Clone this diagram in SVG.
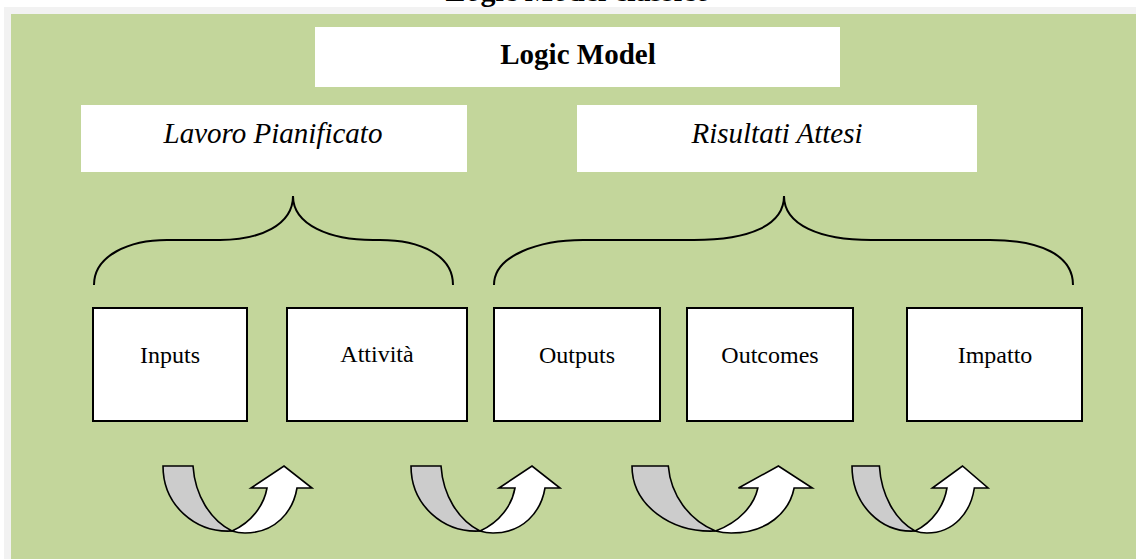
<svg xmlns="http://www.w3.org/2000/svg" width="1136" height="559" viewBox="0 0 1136 559">
  <defs>
    <style>
      .box { fill: #ffffff; stroke: #000000; stroke-width: 2; }
      .label { fill: #ffffff; }
      .txt { font-family: "Liberation Serif", "Times New Roman", serif; fill: #000000; text-anchor: middle; }
      .brace { fill: none; stroke: #000000; stroke-width: 2; }
      .back { fill: #cccccc; stroke: #000000; stroke-width: 1.6; stroke-linejoin: miter; }
      .front { fill: #ffffff; stroke: #000000; stroke-width: 1.6; stroke-linejoin: miter; }
    </style>
    <!-- U-turn arrow, drawn in local units: 149 wide, 67 high -->
    <g id="uturn">
      <path class="back" vector-effect="non-scaling-stroke" d="M0,0 H30 C32,29 47,54 69,65 C32,67 0,39 0,0 Z"/>
      <path class="front" vector-effect="non-scaling-stroke" d="M69,65 C89,56 101,39 104,22 H88 L121,0 L149,22 H134 C130,46 112,67 82,67 Q75,67 69,65 Z"/>
    </g>
  </defs>

  <!-- page and panel -->
  <rect x="0" y="0" width="1136" height="559" fill="#ffffff"/>
  <rect x="4" y="7" width="1132" height="552" fill="#f2f2f2"/>
  <rect x="11" y="14" width="1125" height="545" fill="#c3d69b"/>
  <text class="txt" x="578" y="0.5" font-size="30" font-weight="bold">Logic Model classico</text>

  <!-- title -->
  <g id="title">
    <rect class="label" x="315" y="27" width="525" height="60"/>
    <text class="txt" x="578" y="64" font-size="29" font-weight="bold">Logic Model</text>
  </g>

  <!-- group headings -->
  <g id="lavoro-pianificato">
    <rect class="label" x="81" y="105" width="386" height="67"/>
    <text class="txt" x="273" y="143" font-size="29" font-style="italic">Lavoro Pianificato</text>
  </g>
  <g id="risultati-attesi">
    <rect class="label" x="577" y="105" width="400" height="67"/>
    <text class="txt" x="777" y="143" font-size="29" font-style="italic">Risultati Attesi</text>
  </g>

  <!-- braces grouping the stages -->
  <g id="braces">
    <path class="brace" d="M94,285 C94,255 130,240 167,240 H220 C260,240 293,225 293,196 C293,225 330,240 373,240 H380 C420,240 453,255 453,285"/>
    <path class="brace" d="M494,285 C494,255 540,240 583,240 H694 C750,240 784,225 784,196 C784,225 820,240 871,240 H990 C1040,240 1073,255 1073,285"/>
  </g>

  <!-- stages -->
  <g id="inputs">
    <rect class="box" x="93" y="308" width="154" height="113"/>
    <text class="txt" x="170" y="363" font-size="24">Inputs</text>
  </g>
  <g id="attivita">
    <rect class="box" x="287" y="308" width="180" height="113"/>
    <text class="txt" x="377" y="362" font-size="24">Attività</text>
  </g>
  <g id="outputs">
    <rect class="box" x="494" y="308" width="166" height="113"/>
    <text class="txt" x="577" y="363" font-size="24">Outputs</text>
  </g>
  <g id="outcomes">
    <rect class="box" x="687" y="308" width="166" height="113"/>
    <text class="txt" x="770" y="363" font-size="24">Outcomes</text>
  </g>
  <g id="impatto">
    <rect class="box" x="907" y="308" width="175" height="113"/>
    <text class="txt" x="995" y="363" font-size="24">Impatto</text>
  </g>

  <!-- transition arrows -->
  <g id="connectors">
    <use href="#uturn" transform="translate(163,466)"/>
    <use href="#uturn" transform="translate(411,466)"/>
    <use href="#uturn" transform="translate(632,466) scale(1.21,1)"/>
    <use href="#uturn" transform="translate(852,466) scale(0.913,1)"/>
  </g>
</svg>
